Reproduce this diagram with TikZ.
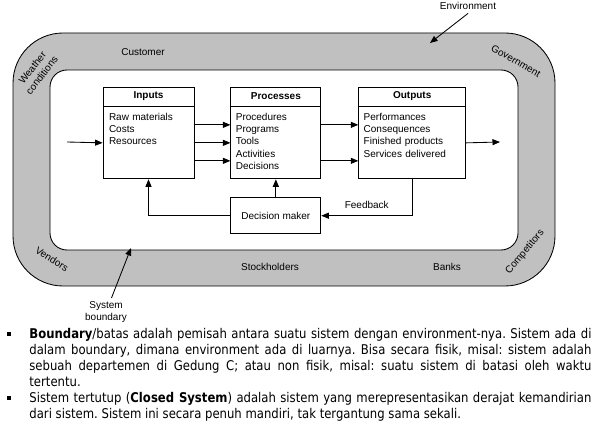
\documentclass[tikz,border=0pt]{standalone}
\usepackage{fontspec}
\setmainfont{Liberation Sans}
\newfontfamily\bodyfont[FakeStretch=0.87]{DejaVu Sans}
\usetikzlibrary{positioning,arrows.meta}
\definecolor{bandgray}{HTML}{C0C0C0}
\hyphenpenalty=10000
\exhyphenpenalty=10000
\frenchspacing

\begin{document}
\begin{tikzpicture}[x=1pt, y=-1pt, node distance=36pt, auto,
  >={Triangle[length=7.5pt,width=6pt]}, line width=0.85pt,
  font=\fontsize{10}{12}\selectfont,
  boxtitle/.style={draw, inner sep=0pt, minimum height=19pt, font=\fontsize{10}{12}\selectfont\bfseries},
  boxbody/.style={draw, inner sep=0pt, minimum height=72pt},
  itemlist/.style={inner sep=0pt, text width=100pt, align=left, anchor=base west, font=\fontsize{10}{12.4}\selectfont},
  paratext/.style={inner sep=0pt, text width=562pt, align=justify, anchor=base west, font=\bodyfont\fontsize{13.4}{16}\selectfont},
  bulletsq/.style={fill, inner sep=0pt, minimum size=4pt}]
\useasboundingbox (0,0) rectangle (603,433);
\path[draw, fill=bandgray, even odd rule] [rounded corners=50pt] (13,33) rectangle (555,286) [rounded corners=17pt] (50,70) rectangle (518,250);

\node (customer) at (143,52) {Customer};
\node (stock) at (270,267) {Stockholders};
\node (banks) at (447,267) {Banks};
\node (weather) [align=center, rotate=52] at (37,71.5) {Weather\\conditions};
\node (govt) [rotate=-30] at (516,61) {Government};
\node (vendors) [rotate=-32] at (52,259) {Vendors};
\node (compet) [rotate=50] at (525,252) {Competitors};

\node (env) at (468,6) {Environment};
\coordinate (envpt) at (430,43);
\draw[->] (env.south) to (envpt);
\node (sysb) [align=center, font=\fontsize{10}{11.5}\selectfont] at (106,312) {System\\boundary};
\coordinate (sysbpt) at (131,248);
\draw[->] (sysb) to (sysbpt);

\node (intitle) [boxtitle, minimum width=91pt] at (148.5,96.5) {Inputs};
\node (inbody) [boxbody, minimum width=91pt, below=0pt of intitle] {};
\node (proctitle) [boxtitle, minimum width=90pt, right=36pt of intitle] {Processes};
\node (procbody) [boxbody, minimum width=90pt, below=0pt of proctitle] {};
\node (outtitle) [boxtitle, minimum width=107pt, right=37pt of proctitle] {Outputs};
\node (outbody) [boxbody, minimum width=107pt, below=0pt of outtitle] {};
\node (dm) [draw, minimum width=90pt, minimum height=36pt, below=18pt of procbody] {Decision maker};

\node (inlist) [itemlist] at ([shift={(6,13.6)}]inbody.north west) {Raw materials\\Costs\\Resources};
\node (proclist) [itemlist] at ([shift={(5,13.6)}]procbody.north west) {Procedures\\Programs\\Tools\\Activities\\Decisions};
\node (outlist) [itemlist] at ([shift={(5,13.6)}]outbody.north west) {Performances\\Consequences\\Finished products\\Services delivered};

\coordinate (src) at (67,142);
\coordinate (sink) at (500,142);
\draw[->] (src) to (inbody.west);
\draw[->] ([yshift=18pt]inbody.east) to ([yshift=18pt]procbody.west);
\draw[->] (inbody.east) to (procbody.west);
\draw[->] ([yshift=-18pt]inbody.east) to ([yshift=-18pt]procbody.west);
\draw[->] ([yshift=18pt]procbody.east) to ([yshift=18pt]outbody.west);
\draw[->] ([yshift=-18pt]procbody.east) to ([yshift=-18pt]outbody.west);
\draw[->] (outbody.east) to (sink);
\draw[->] (dm.west) -| (inbody.south);
\draw[->] (dm) to (procbody);
\draw[->] (outbody.south) |- node[pos=0.75, above=3pt] {Feedback} (dm.east);

\node (bul1) [bulletsq] at (9,334) {};
\node (para1) [paratext] at (29,338.5) {\textbf{Boundary}/batas adalah pemisah antara suatu sistem dengan environment-nya. Sistem ada di\linebreak dalam boundary, dimana environment ada di luarnya. Bisa secara fisik, misal: sistem adalah\linebreak sebuah departemen di Gedung C; atau non fisik, misal: suatu sistem di batasi oleh waktu\linebreak tertentu.};
\node (bul2) [bulletsq] at (9,398) {};
\node (para2) [paratext] at (29,402.5) {Sistem tertutup (\textbf{Closed System}) adalah sistem yang merepresentasikan derajat kemandirian\linebreak dari sistem. Sistem ini secara penuh mandiri, tak tergantung sama sekali.};
\end{tikzpicture}
\end{document}
